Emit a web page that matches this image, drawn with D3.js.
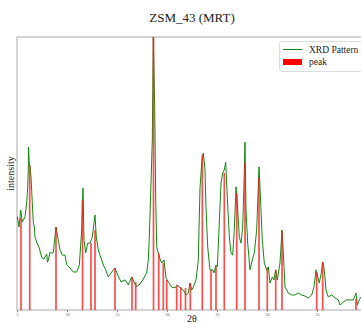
<!DOCTYPE html>
<html><head><meta charset="utf-8">
<script src="https://cdn.jsdelivr.net/npm/d3@7"></script>
<style>
html,body{margin:0;padding:0;background:#fff;}
svg{display:block;}
text{font-family:"Liberation Serif","Times New Roman",serif;}
</style></head>
<body>
<script>
const title = "ZSM_43 (MRT)";
const xLabel = "2θ";
const yLabel = "intensity";
const legendLabels = ["XRD Pattern", "peak"];
const xTicks = [5, 10, 15, 20, 25, 30, 35];

const twoTheta = [5.03,5.2,5.37,5.53,5.8,5.97,6.07,6.13,6.15,6.23,6.3,6.4,6.53,6.63,6.73,6.8,7.03,7.23,7.37,7.53,7.7,7.97,8.05,8.13,8.3,8.47,8.63,8.8,8.9,9.07,9.3,9.53,9.8,9.97,10.3,10.63,10.97,11.23,11.47,11.6,11.7,11.87,12.07,12.3,12.53,12.8,12.93,13.13,13.4,13.63,13.87,14.13,14.47,14.8,15.07,15.4,15.8,16.13,16.47,16.63,16.73,16.97,17.3,17.63,17.97,18.13,18.23,18.4,18.53,18.63,18.77,18.87,18.97,19.23,19.47,19.7,19.9,20.13,20.47,20.8,21.03,21.3,21.63,21.9,22.13,22.3,22.47,22.63,22.9,23.13,23.3,23.47,23.63,23.8,23.9,24.07,24.3,24.57,24.7,24.9,25.03,25.23,25.4,25.57,25.73,25.87,26.03,26.23,26.4,26.57,26.73,26.9,27.03,27.23,27.4,27.57,27.73,27.8,27.9,28.07,28.3,28.53,28.73,28.97,29.2,29.37,29.53,29.73,29.97,30.13,30.3,30.53,30.7,30.87,31.03,31.3,31.5,31.63,31.8,32.13,32.47,32.8,33.13,33.47,33.8,34.13,34.47,34.7,34.9,35.07,35.23,35.43,35.57,35.73,35.9,36.13,36.47,36.8,37.13,37.3,37.63,37.97,38.3,38.63,38.9,39.03,39.23,39.4];
const intensity = [34.2,30.4,36.6,32.2,34.1,39.2,45.1,51.3,59.7,53.8,52.4,48.7,39.2,32,30.4,26.7,24.2,22.7,20.5,19.0,18.7,20.5,17.5,18.3,21.2,20.8,21.0,27,30.4,26.7,22.0,20.1,20.1,16.5,15.4,13.9,13.9,16.5,29.3,44.7,25.6,20.9,24.5,24.5,26.7,34.8,26.7,22.0,19.0,16.5,14.7,12.1,13.9,15.4,12.8,10.3,11.0,9.2,12.1,11.0,9.9,8.6,9.5,11.4,13.6,18.3,27,46.5,62.3,100,74.4,41.4,23.1,19.4,17.2,18.3,11.7,10.3,8.4,8.1,9.2,8.1,7.3,5.5,6.2,9.9,7.3,8.4,11.0,18.3,44.7,53.8,57.5,51.3,37.7,23.1,14.7,14.7,13.6,16.5,15.8,31.9,46.5,50.2,51.3,54.2,41.4,26.7,20.9,20.1,29.3,45.1,39.2,26.7,24.5,30.4,50.2,61.5,36.6,24.5,14.7,18.3,20.9,29.3,52.4,39.2,25.6,17.2,14.7,15.8,9.9,12.1,11.0,14.7,11.0,17.2,29.3,20.9,8.4,6.2,5.5,5.5,6.2,5.5,5.1,4.4,5.5,8.4,14.7,12.1,9.9,13.6,17.6,14.7,7.3,4.8,5.5,4.4,3.7,1.8,2.9,3.7,3.7,3.7,6.2,1.8,3.7,4.8];

const peakPos = [5.4,6.27,8.9,11.55,12.4,12.8,14.8,16.5,16.87,18.65,19.17,19.63,19.97,20.97,21.37,21.85,22.33,23.53,24.4,24.9,25.73,26.97,27.8,29.2,30.03,30.87,31.5,34.97,35.57,38.9];
const peakInt = [33.7,53.1,30.4,40.3,24.5,29.3,15.4,12.1,10.3,100,20.9,17.2,11.0,9.2,8.4,8.1,9.9,56.8,14.7,15.8,50.2,42.9,53.8,48.4,15.4,14.7,28.9,13.9,17.6,4.0];

const W = 361, H = 324;
const m = {left: 17, top: 37, bottom: 14, right: -6};
const svg = d3.select("body").append("svg").attr("width", W).attr("height", H);

const x = d3.scaleLinear().domain([5, 40]).range([m.left, W - m.right]);
const y = d3.scaleLinear().domain([0, 100]).range([H - m.bottom, m.top]);

svg.append("rect").attr("x", m.left).attr("y", m.top)
  .attr("width", W - m.right - m.left).attr("height", H - m.bottom - m.top)
  .attr("fill", "none").attr("stroke", "#aaa").attr("stroke-width", 1);

svg.append("clipPath").attr("id", "c").append("rect")
  .attr("x", m.left).attr("y", m.top - 2)
  .attr("width", W - m.right - m.left).attr("height", H - m.bottom - m.top + 2);

const g = svg.append("g").attr("clip-path", "url(#c)");

const pts = twoTheta.map((t, i) => [t, intensity[i]]);
g.append("path").datum(pts)
  .attr("fill", "none").attr("stroke", "#108a10").attr("stroke-width", 1)
  .attr("d", d3.line().x(d => x(d[0])).y(d => y(d[1])));

const bw = x(5.17) - x(5);
g.selectAll("rect.peak").data(peakPos).join("rect").attr("class", "peak")
  .attr("x", (d) => x(d) - bw / 2).attr("width", bw)
  .attr("y", (d, i) => y(peakInt[i])).attr("height", (d, i) => y(0) - y(peakInt[i]))
  .attr("fill", "#ff1a1a").attr("opacity", 0.78);

const xAxis = d3.axisBottom(x).tickValues(xTicks).tickSize(2).tickPadding(1).tickFormat(d3.format("d"));
const ax = svg.append("g").attr("transform", `translate(0,${H - m.bottom})`).call(xAxis);
ax.select(".domain").remove();
ax.selectAll("line").attr("stroke", "#888");
ax.selectAll("text").attr("font-size", 4).attr("fill", "#555");

svg.append("text").attr("x", 192).attr("y", 22).attr("text-anchor", "middle")
  .attr("font-size", 13).attr("fill", "#222").text(title);
svg.append("text").attr("x", 192).attr("y", 322).attr("text-anchor", "middle")
  .attr("font-size", 10).attr("fill", "#222").text(xLabel);
svg.append("text").attr("transform", `translate(14,${(m.top + H - m.bottom) / 2}) rotate(-90)`)
  .attr("text-anchor", "middle").attr("font-size", 10).attr("fill", "#222").text(yLabel);

const lg = svg.append("g");
lg.append("rect").attr("x", 279.5).attr("y", 41.5).attr("width", 90).attr("height", 30)
  .attr("rx", 2).attr("fill", "white").attr("fill-opacity", 0.8).attr("stroke", "#ddd");
lg.append("line").attr("x1", 283).attr("x2", 302).attr("y1", 49.5).attr("y2", 49.5)
  .attr("stroke", "#108a10").attr("stroke-width", 1);
lg.append("text").attr("x", 309).attr("y", 53).attr("font-size", 9.5).attr("fill", "#222").text(legendLabels[0]);
lg.append("rect").attr("x", 283).attr("y", 59).attr("width", 19).attr("height", 6).attr("fill", "red");
lg.append("text").attr("x", 309).attr("y", 65).attr("font-size", 9.5).attr("fill", "#222").text(legendLabels[1]);
</script>
</body></html>
